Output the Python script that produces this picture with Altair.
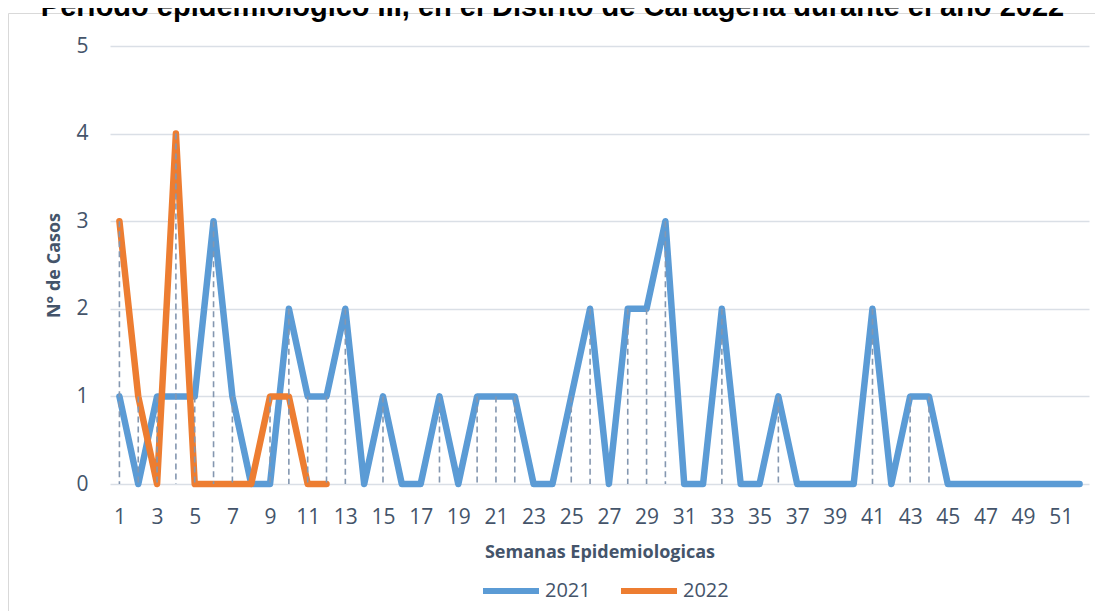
import altair as alt
import pandas as pd

semanas = list(range(1, 53))
casos_2021 = [1, 0, 1, 1, 1, 3, 1, 0, 0, 2,
              1, 1, 2, 0, 1, 0, 0, 1, 0, 1,
              1, 1, 0, 0, 1, 2, 0, 2, 2, 3,
              0, 0, 2, 0, 0, 1, 0, 0, 0, 0,
              2, 0, 1, 1, 0, 0, 0, 0, 0, 0, 0, 0]
semanas_2022 = list(range(1, 13))
casos_2022 = [3, 1, 0, 4, 0, 0, 0, 0, 1, 1, 0, 0]
etiquetas_x = list(range(1, 52, 2))
etiquetas_y = [0, 1, 2, 3, 4, 5]

df = pd.concat([
    pd.DataFrame({"semana": semanas, "casos": casos_2021, "año": "2021"}),
    pd.DataFrame({"semana": semanas_2022, "casos": casos_2022, "año": "2022"}),
])
drop = df.groupby("semana", as_index=False)["casos"].max()

FONT = "Open Sans"
LABEL = "#44546a"

x_axis = alt.Axis(
    values=etiquetas_x, title="Semanas Epidemiologicas", grid=False,
    domain=False, ticks=False, tickSize=0, labelPadding=39,
    labelBaseline="alphabetic", labelFontSize=21, labelColor=LABEL,
    labelFont=FONT, titleFont=FONT, titleFontSize=18, titleFontWeight="bold",
    titleColor=LABEL, titleY=73, titleBaseline="alphabetic",
    labelOverlap=False, labelFlush=False, format="d",
)
x_scale = alt.Scale(domain=[0.5, 52.5], nice=False, zero=False)
y_axis = alt.Axis(
    values=etiquetas_y, title="N° de Casos", grid=True, gridColor="#dadfe6",
    gridWidth=1.5, domain=False, ticks=False, tickSize=0, labelPadding=22,
    labelFontSize=21, labelColor=LABEL, labelFont=FONT, format="d",
    titleFont=FONT, titleFontSize=18, titleFontWeight="bold", titleColor=LABEL,
    titleX=-56, titleY=219, titleAngle=270, titleBaseline="middle",
    titleAlign="center", labelOverlap=False,
)
y_scale = alt.Scale(domain=[0, 5], nice=False)

frame = alt.Chart(pd.DataFrame({"k": [0]})).mark_rect(
    fillOpacity=0, stroke="#d9d9d9", strokeWidth=1
).encode(
    x=alt.value(-101.5), x2=alt.value(1100), y=alt.value(-32.5), y2=alt.value(700)
)

lines = alt.Chart(df).mark_line(
    strokeWidth=6.5, strokeJoin="round", strokeCap="round"
).encode(
    x=alt.X("semana:Q", scale=x_scale, axis=x_axis),
    y=alt.Y("casos:Q", scale=y_scale, axis=y_axis),
    color=alt.Color(
        "año:N",
        scale=alt.Scale(domain=["2021", "2022"], range=["#5b9bd5", "#ed7d31"]),
        legend=alt.Legend(
            title=None, orient="none", direction="horizontal",
            legendX=370, legendY=514, symbolType="stroke", symbolSize=3136,
            symbolStrokeWidth=6, labelFont=FONT, labelFontSize=20,
            labelColor=LABEL, labelOffset=3, columnPadding=18, padding=0,
        ),
    ),
)

rules = alt.Chart(drop).mark_rule(
    color="#8497b0", strokeDash=[6, 4], strokeWidth=1.6
).encode(
    x=alt.X("semana:Q", scale=x_scale, axis=x_axis),
    y=alt.Y("casos:Q", scale=y_scale, axis=y_axis),
    y2=alt.datum(0),
)

chart = alt.layer(frame, lines, rules).properties(
    width=979,
    height=438,
    autosize=alt.AutoSizeParams(type="none"),
    padding={"left": 102, "top": 38, "right": 6, "bottom": 127},
    title=alt.TitleParams(
        text="Periodo epidemiologico III, en el Distrito de Cartagena durante el año 2022",
        font="Liberation Sans", fontSize=29, fontWeight="bold", color="black",
        anchor="middle", dx=-47, dy=32, offset=0, baseline="alphabetic",
    ),
).configure_view(stroke=None).configure_axis(labelOverlap=False)

chart.save("out.html", embed_options={"renderer": "svg", "actions": False})
